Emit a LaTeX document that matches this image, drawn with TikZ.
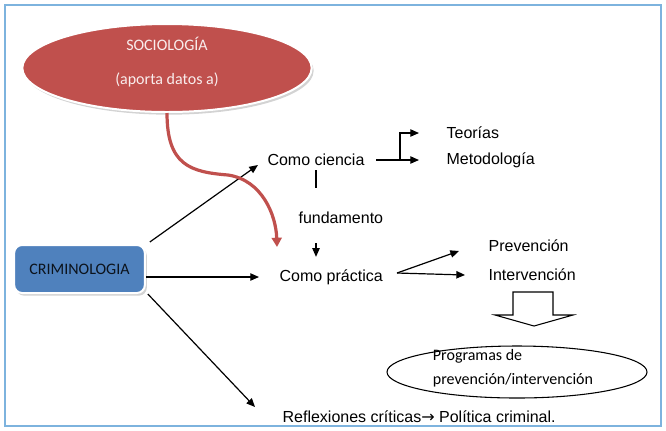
\documentclass[tikz,border=0pt]{standalone}
\usepackage{fontspec}
\setmainfont{Liberation Sans}
\newfontfamily\calibri{Carlito}
\usetikzlibrary{arrows.meta,positioning,calc,shapes.geometric,shadows}
\definecolor{socred}{HTML}{C0504D}
\definecolor{crimblue}{HTML}{4F81BD}
\definecolor{frameblue}{HTML}{7DB3DE}

\begin{document}
\begin{tikzpicture}[x=0.75pt,y=-0.75pt,
  lbl/.style={font=\fontsize{12}{14}\selectfont,inner sep=1pt},
  arr/.style={-{Triangle[length=6.5pt,width=5.5pt]},line width=0.9pt},
  redarr/.style={socred,line width=2.4pt,-{Triangle[length=7pt,width=7.5pt]}}]
\useasboundingbox (0,0) rectangle (666,430);
\draw[frameblue,line width=1.5pt] (5,5) rectangle (661,426);

% boxes
\node[ellipse,fill=socred,draw=white,line width=1.5pt,
  drop shadow={shadow xshift=1.5pt,shadow yshift=-2pt,opacity=0.35},
  minimum width=217pt,minimum height=66pt,
  label={[align=center,yshift=4.5pt,text=white!90!socred,
    font=\calibri\fontsize{12}{14}\selectfont]center:SOCIOLOGÍA\\[11pt](aporta datos a)}]
  (soc) at (167,68) {};
\node[rectangle,rounded corners=6pt,fill=crimblue,draw=white,line width=1.5pt,
  drop shadow={shadow xshift=1.5pt,shadow yshift=-2pt,opacity=0.35},
  minimum width=98pt,minimum height=36pt,
  text=black!85!crimblue,font=\calibri\fontsize{12}{14}\selectfont]
  (crim) at (79.5,269) {CRIMINOLOGIA};

% text
\node[lbl] (cien) at (316,160) {Como ciencia};
\node[lbl,anchor=west] (teo) at (445,133) {Teorías};
\node[lbl,anchor=west] (met) at (445,160) {Metodología};
\node[lbl,anchor=west] (fund) at (297,218) {fundamento};
\node[lbl,anchor=west] (prac) at (278,277) {Como práctica};
\node[lbl,anchor=west] (prev) at (487,246) {Prevención};
\node[lbl,anchor=west] (inter) at (487,275) {Intervención};
\node[ellipse,draw,line width=0.8pt,minimum width=195pt,minimum height=39pt,
  label={[align=left,xshift=-3pt,yshift=3pt,
    font=\calibri\fontsize{12}{18}\selectfont]center:Programas de\\prevención/intervención}]
  (prog) at (517,372) {};
\node[lbl,anchor=west] (refl) at (281,417) {Reflexiones críticas{\fontspec{DejaVu Sans}→} Política criminal.};

\coordinate (fork) at (397,273);
\coordinate (redtip) at (277,247);

% connectors
\draw[arr] ($(crim.north east)+(4,-2)$) -- ($(cien.west)+(-8,5)$);
\draw[arr] (crim.east |- prac.west) -- ($(prac.west)+(-19,0)$);
\draw[arr] ($(crim.south east)+(2,0)$) -- ($(refl.west)+(-26,-10)$);
\draw[arr] ($(cien.east)+(10,0)$) -- ($(met.west)+(-26,0)$);
\draw[arr] ($(cien.east)+(34,0)$) |- ($(teo.west)+(-26,0)$);
\draw[line width=0.9pt] ($(cien.south)+(0,3)$) -- ($(cien.south)+(0,21)$);
\draw[arr] ($(cien.south |- fund.south)+(0,18)$) -- ($(cien.south |- prac.north)+(0,-11)$);
\draw[arr] (fork) -- ($(prev.west)+(-28,5)$);
\draw[arr] (fork) -- ($(inter.west)+(-22,0)$);
\draw[redarr] (soc.south) .. controls (167,165) and (190,172) .. (228,175)
  .. controls (262,180) and (276,215) .. (redtip);

% block arrow
\draw[line width=0.8pt,fill=white] (513,292) -- (553,292) -- (553,315) -- (573,315)
  -- (534,326) -- (495,315) -- (513,315) -- cycle;
\end{tikzpicture}
\end{document}
